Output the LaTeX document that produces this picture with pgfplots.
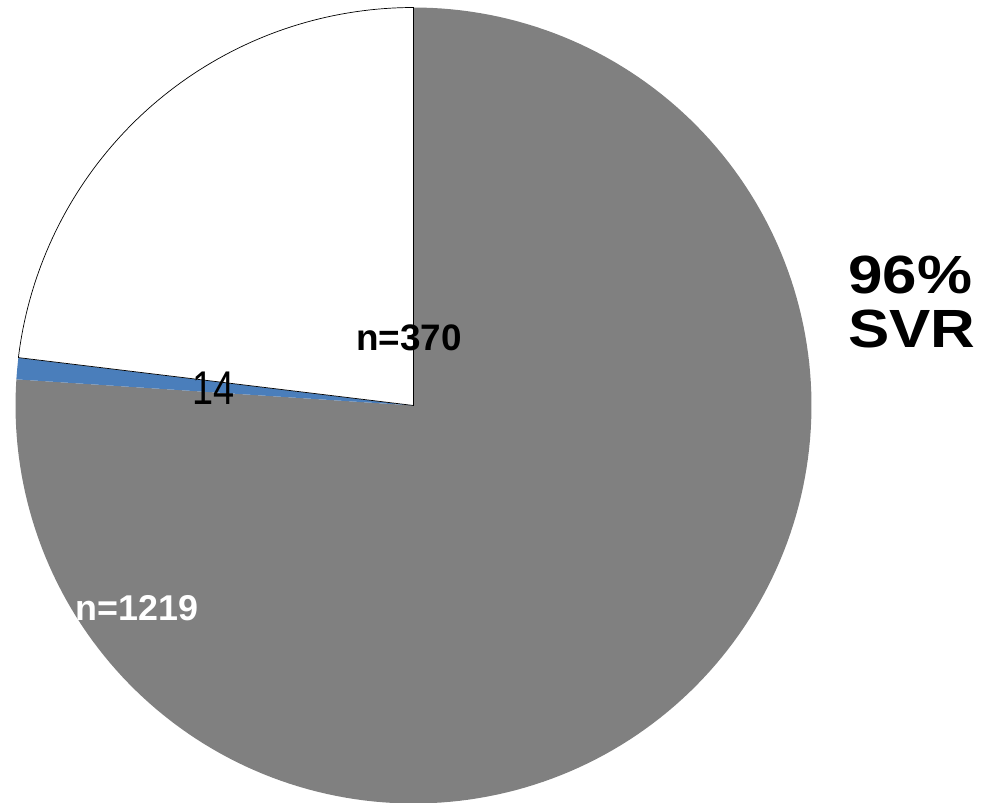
\documentclass[border=0pt]{standalone}
\usepackage{pgfplots}
\pgfplotsset{compat=1.18}
\usepackage{fontspec}
\setmainfont{Liberation Sans}
\definecolor{pieGray}{RGB}{128,128,128}
\definecolor{pieBlue}{RGB}{74,126,187}
\begin{document}
\begin{tikzpicture}
\def\vW{370}\def\vB{14}\def\vG{1219}
\pgfmathsetmacro\tot{\vW+\vB+\vG}
\pgfmathsetmacro\aA{90}
\pgfmathsetmacro\aB{\aA+360*(\vW/\tot)}
\pgfmathsetmacro\aC{\aB+360*(\vB/\tot)}
\pgfmathsetmacro\aD{\aC+360*(\vG/\tot)}
\begin{axis}[x=1bp,y=1bp,xmin=0,xmax=981,ymin=0,ymax=803,hide axis,clip=false]
\path[use as bounding box] (axis cs:0,0) rectangle (axis cs:981,803);
\addplot[draw=none, fill=pieGray, domain=\aC:\aD, samples=200, variable=\t] ({413.5+398*cos(\t)},{397.5+398*sin(\t)}) -- (axis cs:413.5,397.5) -- cycle;
\addplot[draw=none, fill=pieBlue, domain=\aB:\aC, samples=5, variable=\t] ({413.5+398*cos(\t)},{397.5+398*sin(\t)}) -- (axis cs:413.5,397.5) -- cycle;
\addplot[draw=black, line width=0.7bp, fill=white, domain=\aA:\aB, samples=80, variable=\t] ({413.5+398*cos(\t)},{397.5+398*sin(\t)}) -- (axis cs:413.5,397.5) -- cycle;
\node[font=\fontsize{37}{40}\selectfont\bfseries, text=black, inner sep=0pt] at (axis cs:409,465) {n=370};
\node[font=\fontsize{38}{40}\selectfont, text=black, inner sep=0pt, yscale=1.25] at (axis cs:214,415) {14};
\node[font=\fontsize{36}{40}\selectfont\bfseries, text=white, inner sep=0pt] at (axis cs:137,195) {n=1219};
\node[font=\fontsize{54}{56}\selectfont\bfseries, anchor=base west, inner sep=0pt, xscale=1.15] at (axis cs:848,509) {96\%};
\node[font=\fontsize{54}{56}\selectfont\bfseries, anchor=base west, inner sep=0pt, xscale=1.15] at (axis cs:848,455) {SVR};
\end{axis}
\end{tikzpicture}
\end{document}
